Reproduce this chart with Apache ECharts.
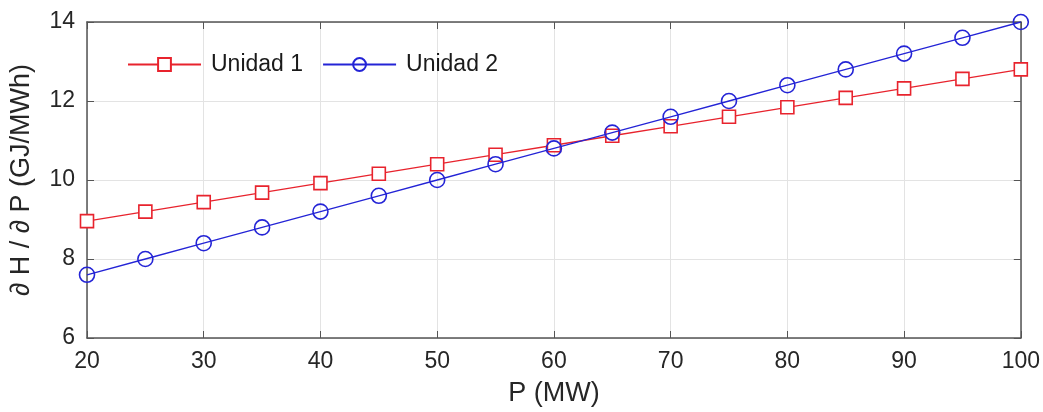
<!DOCTYPE html>
<html>
<head>
<meta charset="utf-8">
<script src="https://cdn.jsdelivr.net/npm/echarts@6/dist/echarts.min.js"></script>
<style>
  html, body { margin: 0; padding: 0; background: #fff; }
  #chart { width: 1043px; height: 412px; }
</style>
</head>
<body>
<div id="chart"></div>
<script>
// potencia (MW)
const potencia = [20, 25, 30, 35, 40, 45, 50, 55, 60, 65, 70, 75, 80, 85, 90, 95, 100]
// costo incremental dH/dP (GJ/MWh)
const unidad1 = [8.96, 9.2, 9.44, 9.68, 9.92, 10.16, 10.4, 10.64, 10.88, 11.12, 11.36, 11.6, 11.84, 12.08, 12.32, 12.56, 12.8]
const unidad2 = [7.6, 8.0, 8.4, 8.8, 9.2, 9.6, 10.0, 10.4, 10.8, 11.2, 11.6, 12.0, 12.4, 12.8, 13.2, 13.6, 14.0]

const FONT = 'Liberation Sans, Arial, sans-serif'
const TEXT = '#262626'
const FRAME = '#555'

const pairs = (ys) => potencia.map((x, i) => [x, ys[i]])

const chart = echarts.init(document.getElementById('chart'))

const baseX = {
  type: 'value', min: 20, max: 100, interval: 10,
  axisLine: { show: true, onZero: false, lineStyle: { color: FRAME, width: 1.5 } },
  axisTick: { show: true, inside: true, length: 7, lineStyle: { color: FRAME } }
}
const baseY = {
  type: 'value', min: 6, max: 14, interval: 2,
  axisLine: { show: true, onZero: false, lineStyle: { color: FRAME, width: 1.5 } },
  axisTick: { show: true, inside: true, length: 7, lineStyle: { color: FRAME } }
}

chart.setOption({
  animation: false,
  textStyle: { fontFamily: FONT },
  grid: { left: 87, right: 21, top: 22, bottom: 70 },
  legend: {
    left: 122, top: 48,
    itemWidth: 73, itemHeight: 16, itemGap: 19,
    textStyle: { fontSize: 23, color: '#1a1a1a', fontFamily: FONT, padding: [0, 0, 0, 5] },
    data: ['Unidad 1', 'Unidad 2']
  },
  xAxis: [
    Object.assign({}, baseX, {
      position: 'bottom',
      name: 'P (MW)', nameLocation: 'middle', nameGap: 42,
      nameTextStyle: { fontSize: 27, color: TEXT, fontFamily: FONT },
      axisLabel: { fontSize: 23, color: TEXT, margin: 12, fontFamily: FONT },
      splitLine: { show: true, lineStyle: { color: '#e3e3e3', width: 1 } }
    }),
    Object.assign({}, baseX, {
      position: 'top',
      axisLabel: { show: false },
      splitLine: { show: false }
    })
  ],
  yAxis: [
    Object.assign({}, baseY, {
      position: 'left',
      name: '\u2202 H / \u2202 P (GJ/MWh)', nameLocation: 'middle', nameGap: 52,
      nameTextStyle: { fontSize: 27, color: TEXT, fontFamily: FONT },
      axisLabel: { fontSize: 23, color: TEXT, margin: 12, fontFamily: FONT },
      splitLine: { show: true, lineStyle: { color: '#e3e3e3', width: 1 } }
    }),
    Object.assign({}, baseY, {
      position: 'right',
      axisLabel: { show: false },
      splitLine: { show: false }
    })
  ],
  series: [
    {
      name: 'Unidad 1', type: 'line', data: pairs(unidad1),
      symbol: 'rect', symbolSize: 13,
      lineStyle: { color: '#e8232d', width: 1.3 },
      itemStyle: { color: '#fff', borderColor: '#e8232d', borderWidth: 1.6 },
      z: 3
    },
    {
      name: 'Unidad 2', type: 'line', data: pairs(unidad2),
      symbol: 'circle', symbolSize: 15,
      lineStyle: { color: '#2424d6', width: 1.3 },
      itemStyle: { color: 'rgba(255,255,255,0)', borderColor: '#2424d6', borderWidth: 1.6 },
      z: 4
    }
  ]
})
</script>
</body>
</html>
